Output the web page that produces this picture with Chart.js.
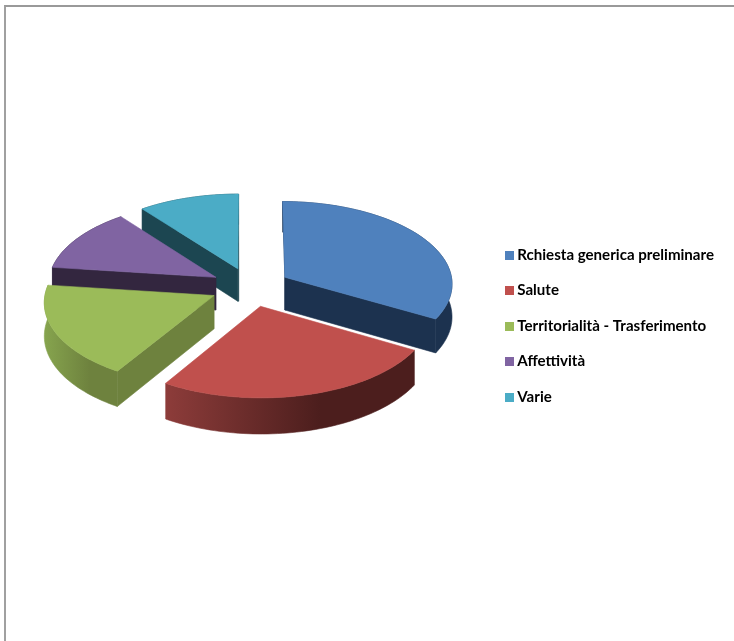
<!DOCTYPE html>
<html>
<head>
<meta charset="utf-8">
<title>Richieste</title>
<style>
html, body { margin: 0; padding: 0; background: #fff; overflow: hidden; }
#frame { position: absolute; left: 4px; top: 5px; right: 0; bottom: 0; border-top: 2px solid #999; border-left: 2px solid #a0a0a0; }
#grafico { position: absolute; left: 0; top: 0; }
</style>
<script src="https://cdn.jsdelivr.net/npm/chart.js@4"></script>
</head>
<body>
<div id="frame"></div>
<canvas id="grafico" width="734" height="641"></canvas>
<script>
// Dati
var categorie = ['Rchiesta generica preliminare', 'Salute', 'Territorialità - Trasferimento', 'Affettività', 'Varie'];
var valori = [33.3, 25.5, 18.2, 12.5, 10.5];

// Colori: faccia superiore, pareti laterali
var coloriTop = ['#4f81bd', '#c0504d', '#9bbb59', '#8064a2', '#4bacc6'];
var coloriTaglio = ['#1c324f', '#4f1f1e', '#6e823e', '#33263f', '#1c4651'];
var coloriBordoSx = ['#1c324f', '#8d3c3a', '#86a44e', '#33263f', '#1c4651'];
var coloriBordoDx = ['#1c324f', '#4c1e1d', '#6e823e', '#33263f', '#1c4651'];

// Vista 3D
var centroX = 250.5;
var centroY = 287;
var inclinazione = 0.49;
var prospettiva = 2400;
var spessore = 33;

function proietta(x, y, z) {
    var s = 1 / (1 - y / prospettiva);
    return [centroX + x * s, centroY + y * inclinazione * s + z * s];
}

function tracciaPoligono(ctx, punti, colore) {
    ctx.beginPath();
    punti.forEach(function(p, i) {
        if (i === 0) ctx.moveTo(p[0], p[1]);
        else ctx.lineTo(p[0], p[1]);
    });
    ctx.closePath();
    ctx.fillStyle = colore;
    ctx.fill();
    // evita la fessura chiara tra facce vicine
    ctx.strokeStyle = colore;
    ctx.lineWidth = 0.6;
    ctx.stroke();
}

// Disegna uno spicchio a partire dagli angoli calcolati da Chart.js
function disegnaSpicchio(ctx, arc, i) {
    var medio = (arc.startAngle + arc.endAngle) / 2;
    var ox = arc.options.offset * Math.cos(medio);
    var oy = arc.options.offset * Math.sin(medio);
    var r = arc.outerRadius;
    var passi = 60;
    var top = [proietta(ox, oy, 0)];
    var parete = [];
    var fondo = [];
    var xMin = 9999, xMax = -9999;
    for (var k = 0; k <= passi; k++) {
        var a = arc.startAngle + (arc.endAngle - arc.startAngle) * k / passi;
        var px = ox + r * Math.cos(a);
        var py = oy + r * Math.sin(a);
        top.push(proietta(px, py, 0));
        parete.push(proietta(px, py, 0));
        fondo.unshift(proietta(px, py, spessore));
        xMin = Math.min(xMin, parete[parete.length - 1][0]);
        xMax = Math.max(xMax, parete[parete.length - 1][0]);
    }

    var apiceSu = proietta(ox, oy, 0);
    var apiceGiu = proietta(ox, oy, spessore);
    var iniSu = parete[0], iniGiu = fondo[fondo.length - 1];
    var fineSu = parete[parete.length - 1], fineGiu = fondo[0];

    // tagli radiali visibili
    if (Math.cos(arc.startAngle) < 0) tracciaPoligono(ctx, [apiceSu, iniSu, iniGiu, apiceGiu], coloriTaglio[i]);
    if (Math.cos(arc.endAngle) > 0) tracciaPoligono(ctx, [apiceSu, fineSu, fineGiu, apiceGiu], coloriTaglio[i]);
    if (Math.abs(Math.cos(arc.endAngle)) < 0.01 || Math.abs(Math.cos(arc.startAngle)) < 0.01) {
        var e = Math.abs(Math.cos(arc.startAngle)) < 0.01 ? iniSu : fineSu;
        tracciaPoligono(ctx, [e, [apiceSu[0] + 1, apiceSu[1]], [apiceGiu[0] + 1, apiceGiu[1]], apiceGiu, apiceSu], coloriTaglio[i]);
    }

    // parete esterna
    var sfumatura = ctx.createLinearGradient(xMin, 0, xMax, 0);
    sfumatura.addColorStop(0, coloriBordoSx[i]);
    sfumatura.addColorStop(0.62, coloriBordoDx[i]);
    sfumatura.addColorStop(1, coloriBordoDx[i]);
    tracciaPoligono(ctx, parete.concat(fondo), sfumatura);

    // faccia superiore
    tracciaPoligono(ctx, top, coloriTop[i]);
}

var effetto3d = {
    id: 'effetto3d',
    beforeDatasetDraw: function(chart) {
        var ctx = chart.ctx;
        var archi = chart.getDatasetMeta(0).data;
        // prima gli spicchi in fondo, poi quelli davanti
        var ordine = archi.map(function(arc, i) {
            return { i: i, y: Math.sin((arc.startAngle + arc.endAngle) / 2) };
        }).sort(function(a, b) { return a.y - b.y; });
        ctx.save();
        ordine.forEach(function(o) { disegnaSpicchio(ctx, archi[o.i], o.i); });
        ctx.restore();
        return false;
    }
};

// Quadratino della legenda: con pointStyleWidth minimo resta vicino al testo
function quadratino(colore) {
    var c = document.createElement('canvas');
    c.width = 9;
    c.height = 9;
    var g = c.getContext('2d');
    g.fillStyle = colore;
    g.fillRect(0, 0, 9, 9);
    return c;
}

var grafico = new Chart(document.getElementById('grafico').getContext('2d'), {
    type: 'pie',
    data: {
        labels: categorie,
        datasets: [{
            data: valori,
            backgroundColor: coloriTop,
            borderWidth: 0,
            offset: 40,
            radius: 168
        }]
    },
    options: {
        responsive: false,
        devicePixelRatio: 1,
        animation: false,
        layout: { padding: { top: 11, right: 10 } },
        plugins: {
            tooltip: { enabled: false },
            legend: {
                position: 'right',
                labels: {
                    usePointStyle: true,
                    pointStyleWidth: 0.1,
                    padding: 20.4,
                    color: '#000',
                    font: { family: 'Lato', size: 15.1, weight: 'bold' },
                    generateLabels: function(chart) {
                        var voci = Chart.overrides.pie.plugins.legend.labels.generateLabels(chart);
                        voci.forEach(function(v, i) {
                            v.pointStyle = quadratino(coloriTop[i]);
                        });
                        return voci;
                    }
                }
            }
        }
    },
    plugins: [effetto3d]
});
</script>
</body>
</html>
